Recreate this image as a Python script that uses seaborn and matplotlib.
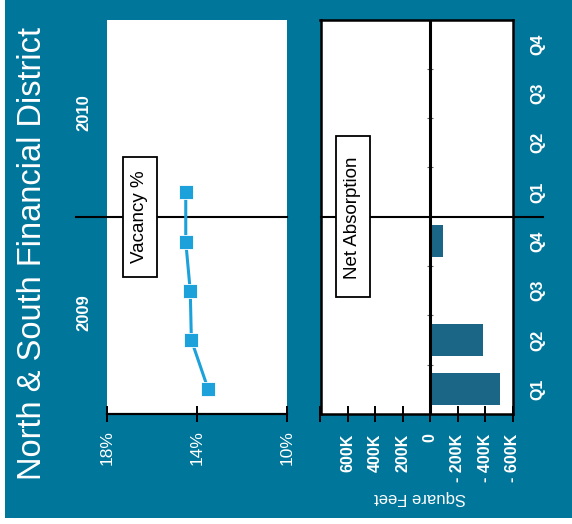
import matplotlib
matplotlib.use("Agg")
import matplotlib.pyplot as plt
import seaborn as sns
import numpy as np
from matplotlib.patches import Rectangle

# ---- data ----
quarters = ["Q1", "Q2", "Q3", "Q4", "Q1", "Q2", "Q3", "Q4"]
years = ["2009", "2010"]
vac_q = [0, 1, 2, 3, 4]
vacancy = [13.5, 14.25, 14.3, 14.5, 14.5]
abs_q = [0, 1, 2, 3]
absorption = [-510000, -385000, 0, -92000]
vac_ticks = [18, 14, 10]
vac_labels = ["18%", "14%", "10%"]
abs_ticks = [800000, 600000, 400000, 200000, 0, -200000, -400000, -600000]
abs_labels = ["", "600K", "400K", "200K", "0", "- 200K", "- 400K", "- 600K"]
title = "North & South Financial District"

TEAL = "#00769A"
BAR = "#1B6687"
LINE = "#1DA1DB"

plt.rcParams["font.family"] = ["Liberation Sans", "DejaVu Sans"]

W, H = 572, 524
fig = plt.figure(figsize=(W / 100, H / 100), dpi=100)
fig.patch.set_facecolor(TEAL)


def rect(l, t, r, b):
    return [l / W, 1 - b / H, (r - l) / W, (b - t) / H]


def fx(x):
    return x / W


def fy(y):
    return 1 - y / H


# white outer strips
fig.add_artist(Rectangle((0, 0), fx(5), 1, transform=fig.transFigure,
                         fc="white", ec="none", zorder=0))
fig.add_artist(Rectangle((0, 0), 1, 6 / H, transform=fig.transFigure,
                         fc="white", ec="none", zorder=0))

ax1 = fig.add_axes(rect(107, 20, 287, 414))
ax2 = fig.add_axes(rect(320.5, 19.5, 512.7, 414))

# ---- vacancy panel ----
sns.lineplot(x=vacancy, y=vac_q, orient="y", ax=ax1, color=LINE, lw=2.2,
             marker="s", markersize=9.5, markeredgecolor="white",
             markeredgewidth=0.6, zorder=5)
ax1.set_facecolor("white")
ax1.set_xlim(18, 10)
ax1.set_ylim(-0.5, 7.5)
for s in ["left", "right", "top"]:
    ax1.spines[s].set_visible(False)
ax1.spines["bottom"].set_color("black")
ax1.spines["bottom"].set_linewidth(1.6)
ax1.set_xticks(vac_ticks, vac_labels)
ax1.tick_params(axis="x", direction="inout", length=12, width=1.4,
                color="black", labelcolor="white", labelsize=12.5,
                labelrotation=90, pad=5.5)
ax1.set_yticks([])
ax1.set_xlabel("")
ax1.set_ylabel("")
ax1.axhline(3.5, xmin=-0.172, xmax=1, color="black", lw=1.5, clip_on=False,
            zorder=3)

# ---- absorption panel ----
sns.barplot(x=absorption, y=abs_q, orient="h", native_scale=True, width=0.65,
            color=BAR, saturation=1, errorbar=None, ax=ax2, zorder=2)
ax2.set_facecolor("white")
ax2.set_xlim(800000, -600000)
ax2.set_ylim(-0.5, 7.5)
for s in ax2.spines.values():
    s.set_color("black")
    s.set_linewidth(1.8)
ax2.set_xticks(abs_ticks, abs_labels)
ax2.tick_params(axis="x", direction="inout", length=12, width=1.4,
                color="black", labelcolor="white", labelsize=11.5,
                labelrotation=90, pad=8)
for lbl in ax2.get_xticklabels():
    lbl.set_fontweight("bold")
ax2.yaxis.tick_right()
ax2.set_yticks(range(len(quarters)), quarters)
ax2.tick_params(axis="y", length=0, labelcolor="white", labelsize=11.5,
                labelrotation=90, pad=13)
for lbl in ax2.get_yticklabels():
    lbl.set_fontweight("bold")
    lbl.set_va("center")
ax2.set_xlabel("")
ax2.set_ylabel("")
ax2.axvline(0, color="black", lw=2.2, zorder=4)
bounds = [0.5, 1.5, 2.5, 4.5, 5.5, 6.5]
ax2.plot(np.zeros(len(bounds)), bounds, ls="none", marker="_", ms=4,
         mew=0.8, color="#666666", zorder=3)
ax2.axhline(3.5, xmin=0, xmax=1.158, color="black", lw=1.5, clip_on=False,
            zorder=4)

# ---- label boxes ----
fig.add_artist(Rectangle((fx(122.7), fy(276.7)), fx(156.7) - fx(122.7),
                         fy(156.7) - fy(276.7), transform=fig.transFigure,
                         fc="white", ec="black", lw=1.3, zorder=2))
fig.text(fx(140), fy(217), "Vacancy %", rotation=90, ha="center",
         va="center", fontsize=13.5, color="black", zorder=3)
fig.add_artist(Rectangle((fx(336), fy(297)), fx(370) - fx(336),
                         fy(136) - fy(297), transform=fig.transFigure,
                         fc="white", ec="black", lw=1.3, zorder=2))
fig.text(fx(353), fy(218), "Net Absorption", rotation=90, ha="center",
         va="center", fontsize=13.5, color="black", zorder=3)

# ---- titles / labels ----
fig.text(fx(33), fy(254), title, rotation=90, ha="center", va="center",
         fontsize=23.5, color="white")
fig.text(fx(84), fy(312.5), years[0], rotation=90, ha="center", va="center",
         fontsize=12, fontweight="bold", color="white")
fig.text(fx(84), fy(112.5), years[1], rotation=90, ha="center", va="center",
         fontsize=12, fontweight="bold", color="white")
fig.text(fx(420), fy(498), "Square Feet", rotation=180, ha="center",
         va="center", fontsize=12, color="white")

fig.savefig("out.png", dpi=100, facecolor=fig.get_facecolor())
